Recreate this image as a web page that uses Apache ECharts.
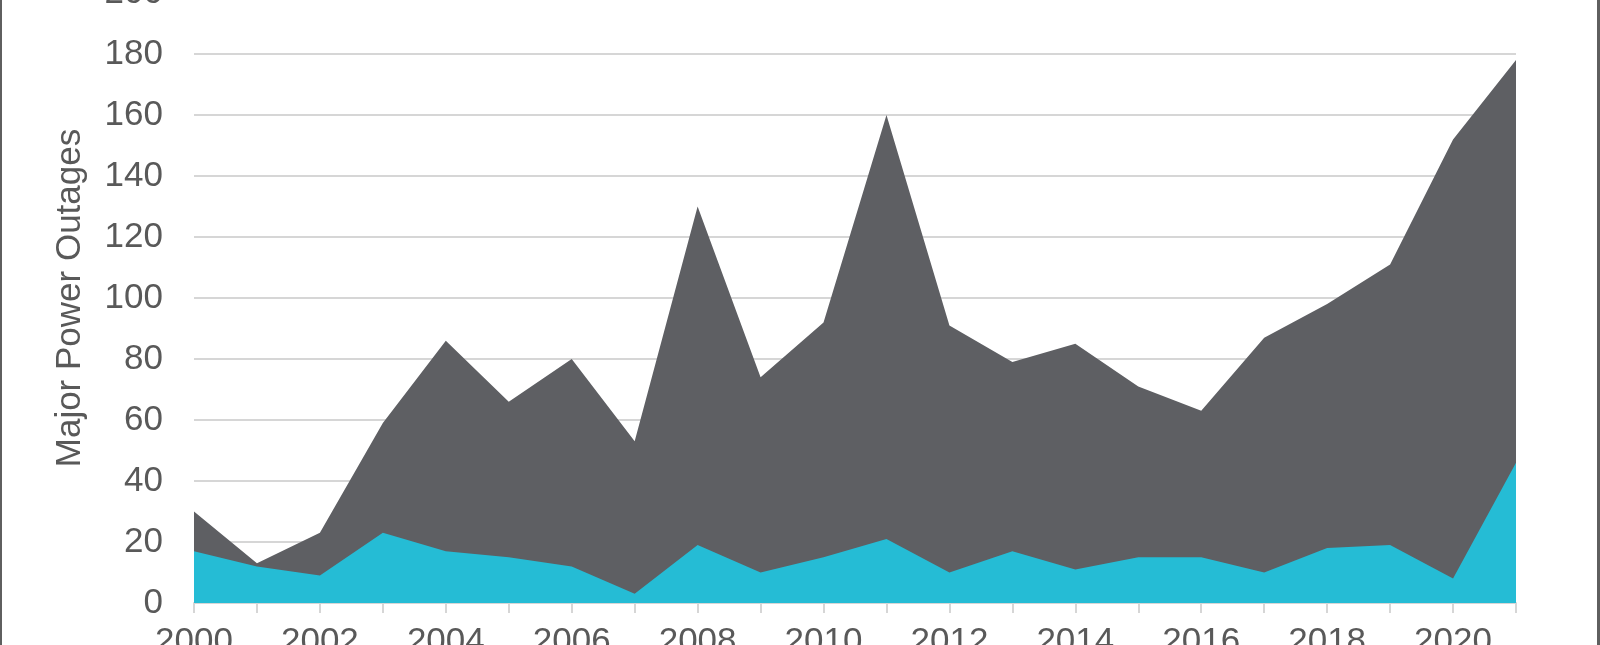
<!DOCTYPE html>
<html>
<head>
<meta charset="utf-8">
<script src="https://cdn.jsdelivr.net/npm/echarts@6/dist/echarts.min.js"></script>
<style>
html,body{margin:0;padding:0;width:1600px;height:645px;overflow:hidden;background:#fff;}
#wrap{position:absolute;left:0;top:0;width:1600px;height:645px;overflow:hidden;}
#chart{position:absolute;left:0;top:-40px;width:1600px;height:725px;}
#bl{position:absolute;left:0;top:0;width:2px;height:645px;background:#5f5f5f;}
#br{position:absolute;right:0;top:0;width:3px;height:645px;background:#5f5f5f;}
</style>
</head>
<body>
<div id="wrap"><div id="chart"></div><div id="bl"></div><div id="br"></div></div>
<script>
const years = ['2000','2001','2002','2003','2004','2005','2006','2007','2008','2009','2010','2011','2012','2013','2014','2015','2016','2017','2018','2019','2020','2021'];
const totalOutages = [30,13,23,59,86,66,80,53,130,74,92,160,91,79,85,71,63,87,98,111,152,178];
const cyanOutages = [17,12,9,23,17,15,12,3,19,10,15,21,10,17,11,15,15,10,18,19,8,46];
const yTicks = {min:0, max:200, interval:20};
const yTitle = 'Major Power Outages';

const chart = echarts.init(document.getElementById('chart'), null, {renderer:'canvas'});
const font = 'Liberation Sans, Arial, sans-serif';
chart.setOption({
  animation:false,
  backgroundColor:'transparent',
  grid:{left:194,right:84,top:33,bottom:82,containLabel:false},
  xAxis:{
    type:'category',
    data:years,
    boundaryGap:false,
    axisLine:{show:true,lineStyle:{color:'#d6d6d6',width:2}},
    axisTick:{show:true,interval:0,length:10,lineStyle:{color:'#d6d6d6',width:2}},
    axisLabel:{interval:1,margin:22,fontSize:35,color:'#595959',fontFamily:font},
    splitLine:{show:false}
  },
  yAxis:{
    type:'value',
    min:yTicks.min,max:yTicks.max,interval:yTicks.interval,
    name:yTitle,
    nameLocation:'middle',
    nameGap:106,
    nameTextStyle:{fontSize:35,color:'#595959',fontFamily:font},
    axisLine:{show:false},
    axisTick:{show:false},
    axisLabel:{margin:31,fontSize:35,color:'#595959',fontFamily:font},
    splitLine:{show:true,lineStyle:{color:'#d6d6d6',width:2}}
  },
  series:[
    {type:'line',data:totalOutages,symbol:'none',lineStyle:{width:0},
     areaStyle:{color:'#5e5f63',opacity:1},itemStyle:{color:'#5e5f63'},z:2},
    {type:'line',data:cyanOutages,symbol:'none',lineStyle:{width:0},
     areaStyle:{color:'#25bcd5',opacity:1},itemStyle:{color:'#25bcd5'},z:3}
  ]
});
</script>
</body>
</html>
